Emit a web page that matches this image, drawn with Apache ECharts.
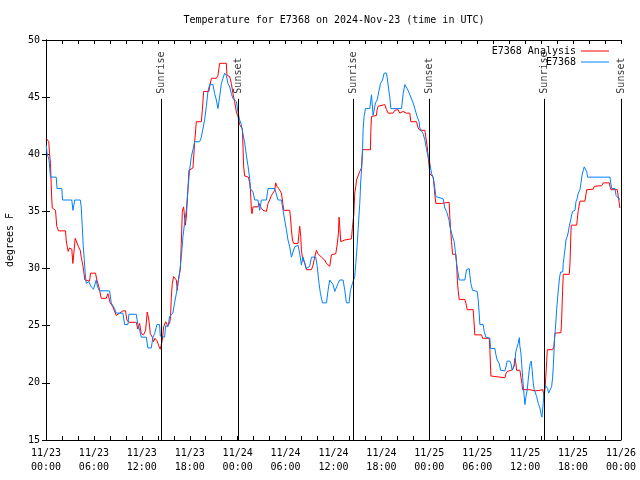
<!DOCTYPE html>
<html><head><meta charset="utf-8">
<script src="https://cdn.jsdelivr.net/npm/echarts@6/dist/echarts.min.js"></script>
<style>html,body{margin:0;padding:0;background:#fff}#c{width:640px;height:480px}</style>
</head><body><div id="c"></div>
<script>
const dateLabels = ['11/23','11/23','11/23','11/23','11/24','11/24','11/24','11/24','11/25','11/25','11/25','11/25','11/26'];
const timeLabels = ['00:00','06:00','12:00','18:00','00:00','06:00','12:00','18:00','00:00','06:00','12:00','18:00','00:00'];

const eventHours = [14.43, 24.03, 38.45, 47.98, 62.39, 72.0];
const eventNames = ['Sunrise','Sunset','Sunrise','Sunset','Sunrise','Sunset'];

// E7368 observations (hours since 11/23 00:00 UTC, degrees F)
const obsHours = [0.03,0.13,0.38,0.56,1.28,1.38,1.98,2.07,3.23,3.37,3.48,3.6,4.29,4.41,4.54,4.66,4.79,4.91,5.04,5.36,5.66,5.95,6.29,6.45,6.7,7.96,8.17,8.37,8.58,8.8,9.63,9.84,10.26,10.38,11.3,11.5,11.72,11.93,12.56,12.76,13.18,13.39,13.6,13.89,14.22,14.31,14.85,14.98,15.27,15.48,15.69,15.89,16.1,16.32,16.52,16.73,16.94,17.15,17.36,17.57,17.77,17.98,18.2,18.4,18.61,19.24,19.45,19.65,19.86,20.08,20.28,20.49,20.9,21.12,21.33,21.53,21.74,21.96,22.16,22.37,22.58,22.78,23.0,23.21,23.41,23.84,24.04,24.25,24.46,24.66,24.88,25.09,25.29,25.5,25.6,25.92,26.13,26.54,26.76,26.97,27.6,27.8,28.64,28.85,29.05,29.48,29.68,29.89,30.1,30.3,30.52,30.73,30.93,31.14,31.56,31.77,31.98,32.18,32.4,32.61,33.02,33.24,33.78,33.94,34.19,34.37,34.62,35.12,35.32,35.53,35.74,35.94,36.16,36.37,36.57,36.78,37.2,37.41,37.62,37.95,38.12,38.37,38.66,38.79,38.95,39.08,39.29,39.42,39.54,39.63,39.7,39.83,40.0,40.54,40.76,40.96,41.26,41.46,41.71,41.89,42.14,42.34,42.64,42.76,42.93,43.05,43.18,44.52,44.72,44.93,45.14,45.34,45.56,45.77,45.97,46.18,46.47,46.72,46.81,47.22,47.44,47.65,47.85,48.07,48.28,48.48,48.6,48.82,49.73,49.94,50.16,50.36,50.48,50.57,50.78,50.98,51.11,51.24,51.41,51.53,51.74,52.45,52.66,52.79,52.99,53.08,53.2,53.41,53.99,54.12,54.24,54.33,54.74,54.87,55.08,55.58,55.67,56.21,56.34,56.5,56.75,56.92,57.46,57.59,57.75,58.09,58.22,58.38,58.63,58.72,58.8,58.93,59.13,59.26,59.34,59.47,59.56,59.68,59.84,59.97,60.1,60.26,60.38,60.51,60.63,60.76,60.88,61.01,61.14,61.44,61.64,61.85,62.01,62.1,62.26,62.39,62.52,62.69,62.81,62.94,63.19,63.32,63.44,63.52,63.6,63.69,63.77,63.86,63.94,64.07,64.19,64.32,64.44,64.57,64.7,64.77,64.9,65.02,65.11,65.27,65.4,65.52,65.7,65.82,65.95,66.24,66.36,66.52,66.65,66.86,66.99,67.15,67.28,67.4,67.53,67.7,67.83,70.62,70.71,70.84,71.25,71.38,71.66,71.87];
const obsTemps = [40.8,40.1,39.5,38.0,38.0,37.0,37.0,36.0,36.0,35.1,35.1,36.0,36.0,35.4,33.7,32.0,30.8,29.6,28.7,28.85,28.4,28.2,29.0,28.4,28.05,28.05,27.0,27.0,26.5,26.1,26.1,25.1,25.1,26.0,26.0,25.1,24.6,24.0,24.0,23.05,23.05,24.0,24.3,25.1,25.1,24.1,24.0,25.0,24.9,25.8,25.8,26.1,27.0,27.8,28.7,29.6,31.0,32.8,34.0,35.1,36.9,38.6,39.8,40.4,41.1,41.1,41.5,41.5,43.0,44.2,45.5,46.1,46.1,45.3,44.75,44.0,45.0,46.2,46.65,47.1,46.9,46.2,45.9,45.3,44.9,44.6,43.7,43.0,42.6,41.8,41.0,39.9,39.0,37.9,37.0,36.7,36.0,36.0,35.1,36.0,36.0,37.0,37.0,36.85,36.0,36.0,35.1,34.25,33.4,32.5,31.9,31.0,31.0,31.9,32.05,31.3,30.3,31.0,30.5,30.0,30.2,31.0,31.0,30.3,28.7,27.8,27.0,27.0,28.1,29.0,29.0,28.6,28.0,28.0,28.7,29.0,29.0,28.1,27.0,27.0,28.1,28.7,29.3,30.45,31.9,33.4,35.7,37.75,38.9,40.1,42.1,43.3,44.0,44.0,45.2,43.4,44.5,44.75,45.6,46.2,46.5,47.1,47.1,46.5,45.6,45.0,44.0,44.0,45.3,46.1,46.1,45.6,45.2,45.2,44.5,44.0,43.3,42.85,42.3,41.8,41.25,40.4,39.8,39.2,38.3,38.0,37.5,36.3,36.1,35.3,35.0,34.5,34.2,33.7,33.1,33.0,32.35,31.6,30.45,29.9,29.0,29.0,29.9,30.0,30.0,29.4,28.7,28.1,28.0,27.25,26.1,25.1,25.1,24.5,24.0,23.9,23.0,23.0,22.45,22.0,21.7,21.1,21.05,21.4,21.9,21.9,21.7,21.1,21.1,21.7,22.6,23.0,23.45,23.95,23.2,22.6,21.7,20.5,19.1,18.1,18.8,19.4,20.25,21.1,21.7,21.9,21.1,20.0,19.4,18.8,18.2,17.8,17.2,17.0,18.2,19.4,19.8,19.95,19.5,19.1,19.1,19.7,20.5,21.4,22.6,24.0,24.6,25.5,26.4,27.5,28.4,29.3,29.7,29.6,29.7,30.45,31.2,31.9,32.5,32.8,33.2,33.7,34.25,34.7,35.0,35.1,35.85,36.15,36.6,36.9,37.5,38.3,38.6,38.9,39.05,38.5,38.0,38.0,37.5,37.0,37.0,36.4,36.15,36.05];

// E7368 Analysis
const anaHours = [0.03,0.27,0.35,0.44,0.56,0.69,0.78,1.19,1.28,1.35,1.57,2.44,2.53,2.66,2.78,2.95,3.23,3.36,3.48,3.66,3.86,4.07,4.29,4.41,4.61,4.74,4.86,5.45,5.58,6.2,6.37,6.62,6.92,7.54,7.75,8.04,8.37,8.8,9.21,9.63,9.96,10.13,10.38,11.3,11.5,11.72,11.93,12.22,12.47,12.68,12.88,13.06,13.31,13.47,13.64,13.89,14.14,14.31,14.56,14.73,14.98,15.23,15.48,15.6,15.69,15.82,15.98,16.23,16.32,16.44,16.52,16.64,16.82,16.94,17.07,17.23,17.36,17.45,17.57,17.77,17.9,18.4,18.61,18.82,19.45,19.58,19.74,20.4,20.49,20.7,21.33,21.53,21.74,22.58,22.66,23.0,23.21,23.41,23.62,23.84,24.04,24.25,24.59,24.75,24.88,25.35,25.5,25.6,25.72,25.8,25.92,26.54,26.67,26.85,26.97,27.17,27.6,27.8,28.01,28.22,28.42,28.64,28.76,28.92,29.14,29.26,29.48,29.6,29.77,30.52,30.64,30.73,30.86,31.02,31.56,31.68,31.77,31.9,31.98,32.11,32.4,32.61,33.24,33.44,33.65,33.86,34.06,34.49,34.9,35.12,35.53,35.74,36.28,36.45,36.62,36.7,36.78,36.91,37.41,38.25,38.37,38.54,38.66,38.79,38.88,39.08,39.29,39.5,39.63,40.63,40.67,40.76,41.38,41.46,41.59,42.42,42.64,42.84,43.46,43.68,43.88,44.09,44.3,44.72,45.14,45.56,45.68,46.4,46.6,46.81,47.44,47.56,47.73,47.85,47.98,48.07,48.48,48.6,48.69,48.82,49.53,49.61,50.48,50.57,50.66,50.78,50.91,51.32,51.41,51.53,51.61,51.74,52.45,52.58,52.74,53.49,53.58,53.7,54.54,54.67,55.5,55.58,55.71,56.84,57.46,57.59,57.75,58.3,58.59,58.72,58.84,58.93,59.34,59.47,59.59,59.68,60.6,60.7,61.22,61.44,61.85,61.94,62.19,62.39,62.52,62.6,62.69,62.77,63.44,63.6,63.73,64.48,64.57,64.69,64.77,65.52,65.61,65.7,65.77,66.45,66.65,66.86,67.49,67.7,68.53,68.66,69.58,69.78,70.54,70.62,70.75,71.54,71.66,71.79,71.87];
const anaTemps = [41.4,41.4,41.1,40.1,39.2,36.6,35.3,35.1,35.2,33.7,33.3,33.3,32.5,31.9,31.5,31.8,31.7,30.45,31.3,32.65,32.5,31.9,31.6,31.0,30.3,29.7,29.0,28.9,29.6,29.6,29.0,28.4,27.4,27.4,27.8,27.0,26.65,25.9,26.1,26.3,26.3,25.5,25.3,25.3,24.7,25.2,24.3,24.2,24.6,26.2,25.5,24.3,24.0,23.6,23.9,23.7,23.2,22.95,23.7,24.9,25.35,25.0,25.2,25.8,27.5,28.7,29.3,29.4,29.0,28.1,28.7,29.3,29.9,32.2,35.0,35.4,35.4,33.8,34.5,36.9,38.6,38.8,41.0,42.85,42.85,43.9,45.5,45.5,45.9,46.65,46.65,46.9,47.96,47.96,46.9,46.8,46.2,45.3,44.6,43.7,43.3,42.6,42.2,38.9,38.1,38.0,37.5,36.9,35.1,34.8,35.4,35.4,35.7,35.4,35.55,35.1,35.0,35.7,36.0,36.4,36.6,36.85,37.5,37.2,37.0,36.85,36.6,36.0,35.1,35.1,34.25,33.4,32.5,32.2,32.2,33.1,33.7,32.8,31.6,31.0,30.45,29.9,29.9,30.3,31.0,31.6,31.3,31.0,30.75,30.45,30.2,31.2,31.3,32.05,33.1,34.5,33.7,32.35,32.5,32.6,33.6,34.7,36.6,37.2,37.75,38.1,38.5,38.8,40.4,40.4,42.0,43.3,43.4,43.9,44.2,44.35,43.9,43.6,43.6,43.85,43.75,43.9,43.6,43.75,43.6,43.6,42.85,42.85,42.3,42.1,42.1,41.5,40.7,39.8,38.9,38.3,38.0,37.2,36.4,35.7,35.7,35.8,35.8,34.5,33.4,32.35,31.25,31.25,30.45,28.7,28.1,27.3,27.3,26.95,26.4,26.4,25.5,24.2,24.2,23.9,23.9,22.9,20.6,20.5,20.45,20.8,21.0,21.1,21.4,22.15,21.7,21.1,21.1,20.5,19.95,19.4,19.4,19.3,19.3,19.4,19.35,19.5,19.4,18.8,19.8,19.95,21.85,22.9,22.9,23.2,24.35,24.4,25.6,28.1,29.5,29.5,30.45,32.5,33.8,33.8,35.1,35.9,35.9,36.9,36.95,37.2,37.25,37.5,37.5,37.2,36.9,36.9,36.3,35.7,35.3];

const FONT = 'DejaVu Sans Mono';
const BLACK = '#000';
const lineTop = 44.85;   // top end of sunrise/sunset lines (degF)
const labelBase = 45.3;  // base of the rotated labels

const obsData = obsHours.map((h, i) => [h, obsTemps[i]]);
const anaData = anaHours.map((h, i) => [h, anaTemps[i]]);

const chart = echarts.init(document.getElementById('c'), null, {renderer: 'canvas'});
const tickStyle = {show: true, inside: true, length: 4, lineStyle: {color: BLACK, width: 1}};
const minorStyle = {show: true, splitNumber: 3, length: 4, lineStyle: {color: BLACK, width: 1}};
const axLine = {show: true, lineStyle: {color: BLACK, width: 1}};

chart.setOption({
  animation: false,
  backgroundColor: '#fff',
  textStyle: {fontFamily: FONT},
  title: {
    text: 'Temperature for E7368 on 2024-Nov-23 (time in UTC)',
    left: 334, top: 15, textAlign: 'center', padding: 0,
    textStyle: {fontFamily: FONT, fontSize: 10, fontWeight: 'normal', color: BLACK}
  },
  legend: [
    {data: ['E7368 Analysis'], right: 31, top: 46, padding: 0, align: 'right', icon: 'rect',
     itemWidth: 28, itemHeight: 1, selectedMode: false,
     textStyle: {fontFamily: FONT, fontSize: 10, color: BLACK}},
    {data: ['E7368'], right: 31, top: 57, padding: 0, align: 'right', icon: 'rect',
     itemWidth: 28, itemHeight: 1, selectedMode: false,
     textStyle: {fontFamily: FONT, fontSize: 10, color: BLACK}}
  ],
  grid: {left: 46, right: 19, top: 40, bottom: 40, containLabel: false, outerBoundsMode: 'none'},
  xAxis: [
    {type: 'value', min: 0, max: 72, interval: 6, position: 'bottom',
     axisLine: axLine, axisTick: tickStyle, minorTick: minorStyle, splitLine: {show: false},
     axisLabel: {margin: 6, lineHeight: 14, fontFamily: FONT, fontSize: 10, color: BLACK,
       formatter: v => { const i = Math.round(v / 6); return dateLabels[i] + '\n' + timeLabels[i]; }}},
    {type: 'value', min: 0, max: 72, interval: 6, position: 'top',
     axisLine: axLine, axisTick: tickStyle, minorTick: minorStyle, splitLine: {show: false},
     axisLabel: {show: false}}
  ],
  yAxis: [
    {type: 'value', min: 15, max: 50, interval: 5, position: 'left',
     name: 'degrees F', nameLocation: 'middle', nameGap: 31, nameRotate: 90,
     nameTextStyle: {fontFamily: FONT, fontSize: 10, color: BLACK},
     axisLine: axLine, axisTick: tickStyle, splitLine: {show: false},
     axisLabel: {margin: 6, fontFamily: FONT, fontSize: 10, color: BLACK}},
    {type: 'value', min: 15, max: 50, interval: 5, position: 'right',
     axisLine: axLine, axisTick: tickStyle, splitLine: {show: false},
     axisLabel: {show: false}}
  ],
  series: [
    {name: 'E7368 Analysis', type: 'line', data: anaData, color: '#ff0000',
     showSymbol: false, symbol: 'none', lineStyle: {width: 1, color: '#ff0000'},
     emphasis: {disabled: true}, silent: true},
    {name: 'E7368', type: 'line', data: obsData, color: '#0080ff',
     showSymbol: false, symbol: 'none', lineStyle: {width: 1, color: '#0080ff'},
     emphasis: {disabled: true}, silent: true},
    {name: 'events', type: 'scatter', silent: true,
     data: eventHours.map(h => [h, labelBase]),
     symbolSize: 0.1, itemStyle: {color: 'rgba(0,0,0,0)'},
     label: {show: true, position: 'top', distance: 0, rotate: 90, align: 'left', verticalAlign: 'middle',
       fontFamily: FONT, fontSize: 10, color: BLACK,
       formatter: p => eventNames[p.dataIndex]},
     emphasis: {disabled: true},
     markLine: {silent: true, symbol: ['none', 'none'], animation: false,
       label: {show: false},
       lineStyle: {color: BLACK, width: 1, type: 'solid'},
       emphasis: {disabled: true},
       data: eventHours.map(h => [{coord: [h, 15]}, {coord: [h, lineTop]}])}}
  ]
});
</script>
</body></html>
